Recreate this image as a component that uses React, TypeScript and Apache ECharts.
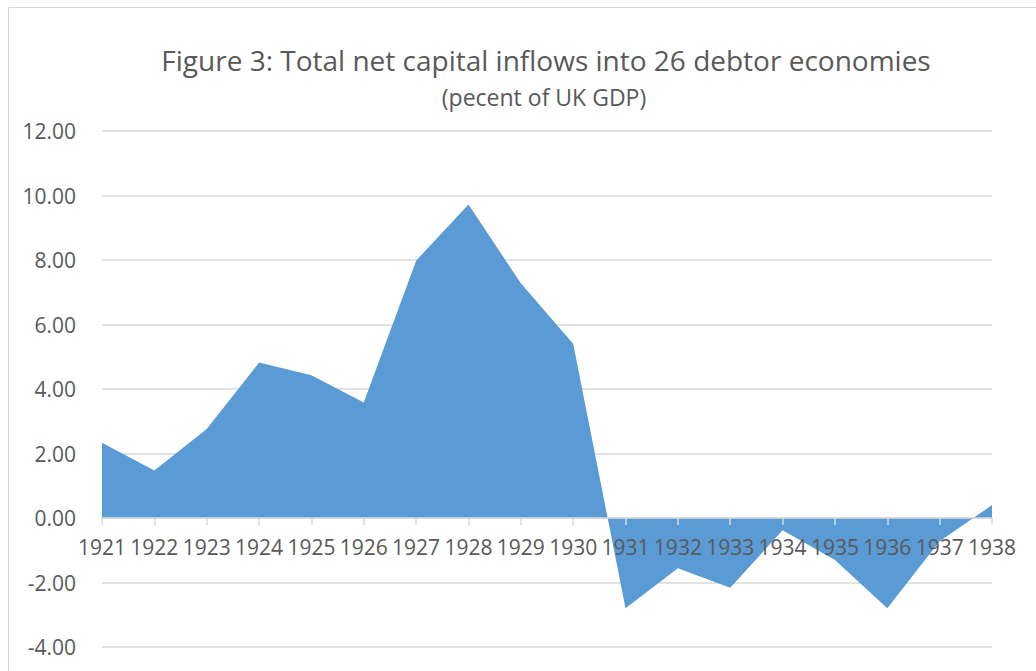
import React, { useEffect, useRef } from "react";
import * as echarts from "echarts";

const years = ["1921","1922","1923","1924","1925","1926","1927","1928","1929","1930","1931","1932","1933","1934","1935","1936","1937","1938"];
const inflows = [2.33, 1.47, 2.76, 4.82, 4.43, 3.58, 7.98, 9.72, 7.28, 5.40, -2.80, -1.56, -2.16, -0.38, -1.30, -2.80, -0.72, 0.40];
const titleText = "Figure 3: Total net capital inflows into 26 debtor economies";
const subtitleText = "(pecent of UK GDP)";

export default function App() {
  const ref = useRef<HTMLDivElement>(null);
  useEffect(() => {
    document.body.style.margin = "0";
    const chart = echarts.init(ref.current!, null, { renderer: "svg" });
    const font = "Open Sans";
    chart.setOption({
      animation: false,
      backgroundColor: "#ffffff",
      graphic: [
        { type: "rect", shape: { x: 8.5, y: 7.5, width: 1200, height: 1000 }, style: { fill: "none", stroke: "#d9d9d9", lineWidth: 1 }, silent: true },
        { type: "text", x: 546, y: 60, style: { text: titleText, fontFamily: font, fontSize: 28, fill: "#595959", align: "center", verticalAlign: "middle" } },
        { type: "text", x: 544, y: 97, style: { text: subtitleText, fontFamily: font, fontSize: 23, fill: "#595959", align: "center", verticalAlign: "middle" } },
      ],
      grid: { left: 102, right: 44, top: 131, bottom: 24, containLabel: false, outerBoundsMode: "none" },
      xAxis: {
        type: "category",
        data: years,
        boundaryGap: false,
        offset: -129,
        z: 10,
        axisLine: { onZero: false, lineStyle: { color: "#d9d9d9", width: 1.5 } },
        axisTick: { show: true, length: 7, lineStyle: { color: "#d9d9d9", width: 1.5 }, alignWithLabel: true },
        axisLabel: { color: "#595959", fontFamily: font, fontSize: 21, margin: 18, interval: 0, hideOverlap: false },
        splitLine: { show: false },
      },
      yAxis: {
        type: "value",
        min: -4,
        max: 12,
        interval: 2,
        axisLine: { show: false },
        axisTick: { show: false },
        axisLabel: { color: "#595959", fontFamily: font, fontSize: 21, margin: 26, formatter: (v: number) => v.toFixed(2) },
        splitLine: { lineStyle: { color: "#d9d9d9", width: 1.5 } },
      },
      series: [
        {
          type: "line",
          data: inflows,
          showSymbol: false,
          symbol: "none",
          lineStyle: { width: 0 },
          areaStyle: { color: "#5b9bd5", opacity: 1 },
          z: 1,
        },
      ],
    });
    return () => chart.dispose();
  }, []);
  return <div ref={ref} style={{ width: 1036, height: 671 }} />;
}
